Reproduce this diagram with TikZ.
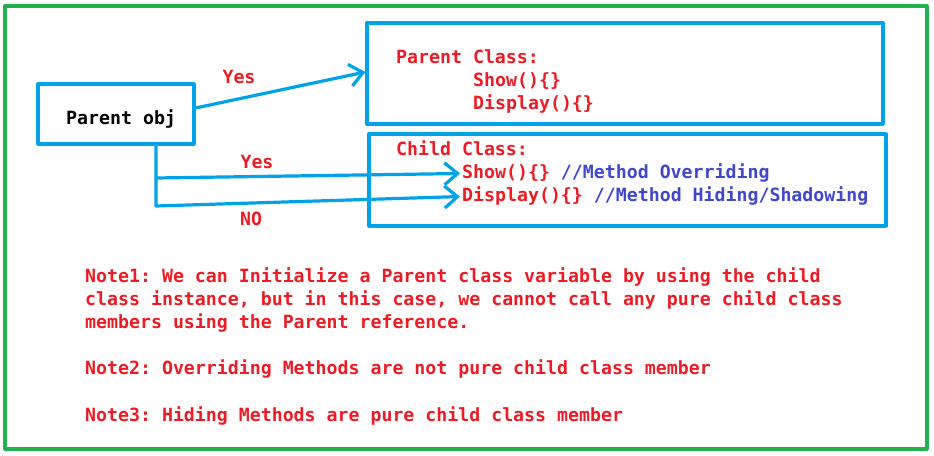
\documentclass[tikz,border=0pt]{standalone}
\usepackage{fontspec}
\setmonofont{DejaVu Sans Mono}
\usetikzlibrary{arrows.meta}
\definecolor{paintred}{RGB}{237,28,36}
\definecolor{paintblue}{RGB}{0,162,232}
\definecolor{paintindigo}{RGB}{63,72,204}
\definecolor{paintgreen}{RGB}{34,177,76}
\begin{document}
\begin{tikzpicture}[x=1bp,y=-1bp,>={Straight Barb[length=13bp,width=22bp]}, line join=round, line cap=round,
	font=\ttfamily\bfseries\fontsize{18.3pt}{23pt}\selectfont,
	box/.style={draw=paintblue,line width=3.2bp,inner sep=0pt},
	txt/.style={anchor=base west,inner sep=0pt,text=paintred},
	lbl/.style={inner sep=0pt,text=paintred},
	link/.style={draw=paintblue,line width=3.2bp,->}]
	\useasboundingbox (0,0) rectangle (934,456);
	\draw[paintgreen,line width=3.2bp] (5,6) rectangle (927,449); % frame
	% boxes
	\node[box,minimum width=156bp,minimum height=60bp] (obj) at (116,114) {};
	\node[box,minimum width=516bp,minimum height=101bp] (pbox) at (625,73.5) {};
	\node[box,minimum width=517bp,minimum height=92bp] (cbox) at (627.5,180) {};
	\node[txt,text=black] (objname) at (66,125) {Parent obj};
	% class members
	\node[txt] (pname) at (396,64) {Parent Class:};
	\node[txt] (pshow) at (473,87) {Show()\{\}};
	\node[txt] (pdisp) at (473,110) {Display()\{\}};
	\node[txt] (cname) at (396,156) {Child Class:};
	\node[txt] (cshow) at (462,179) {Show()\{\} \textcolor{paintindigo}{//Method Overriding}};
	\node[txt] (cdisp) at (462,202) {Display()\{\} \textcolor{paintindigo}{//Method Hiding/Shadowing}};
	% connectors
	\coordinate (fork) at (156,178);
	\coordinate (bend) at (156,206);
	\draw[link] ([yshift=6bp]obj.east) -- ([yshift=1.5bp]pbox.west);
	\draw[link,shorten >=2bp] (fork) -- (cshow.west);
	\draw[link,shorten >=2bp] ([xshift=40bp]obj.south) -- (bend) -- (cdisp.west);
	\node[lbl] (yesp) at (239,77) {Yes};
	\node[lbl] (yesc) at (257,162) {Yes};
	\node[lbl] (noc) at (251,219) {NO};
	% notes
	\node[txt] (noteA) at (85,283) {Note1: We can Initialize a Parent class variable by using the child};
	\node[txt] (noteB) at (85,306) {class instance, but in this case, we cannot call any pure child class};
	\node[txt] (noteC) at (85,329) {members using the Parent reference.};
	\node[txt] (noteD) at (85,375) {Note2: Overriding Methods are not pure child class member};
	\node[txt] (noteE) at (85,421) {Note3: Hiding Methods are pure child class member};
\end{tikzpicture}
\end{document}
